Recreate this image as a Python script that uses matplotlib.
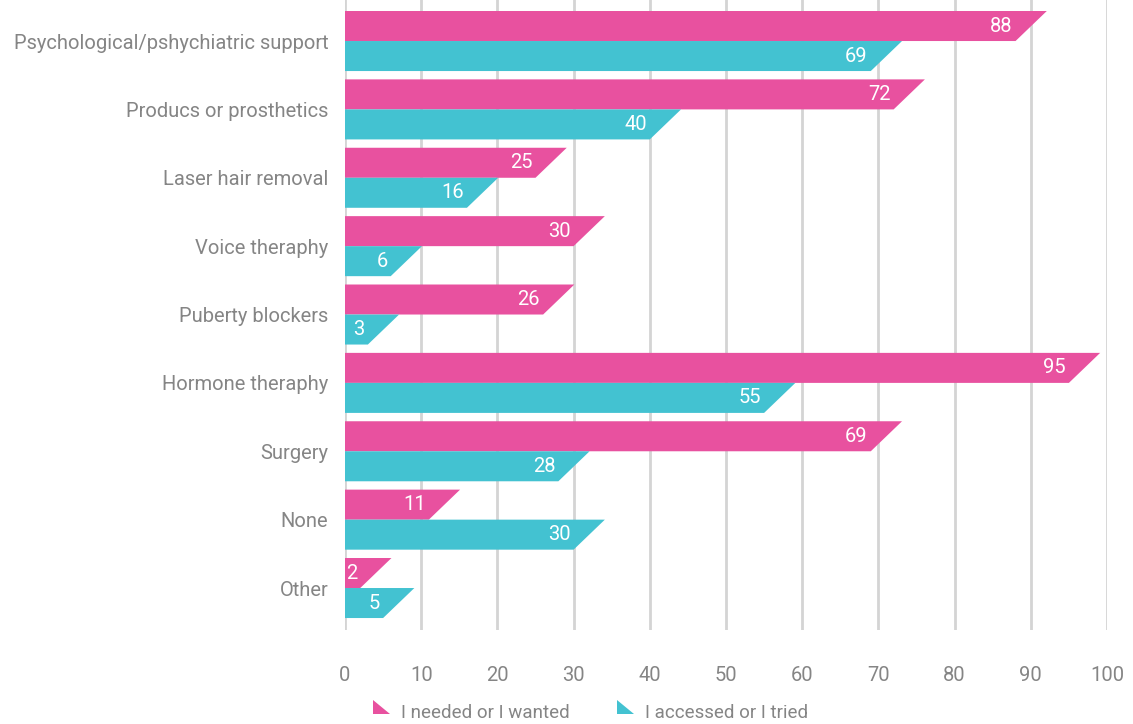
import matplotlib
matplotlib.use("Agg")
import matplotlib.pyplot as plt
from matplotlib.patches import Polygon

# ------------------------
# Data
# ------------------------
categories = ["Psychological/pshychiatric support", "Producs or prosthetics",
              "Laser hair removal", "Voice theraphy", "Puberty blockers",
              "Hormone theraphy", "Surgery", "None", "Other"]
needed = [88, 72, 25, 30, 26, 95, 69, 11, 2]
accessed = [69, 40, 16, 6, 3, 55, 28, 30, 5]
series_names = ["I needed or I wanted", "I accessed or I tried"]
xticks = list(range(0, 101, 10))

pink = "#E8519F"
teal = "#43C2D1"
grey_txt = "#858585"

plt.rcParams['font.family'] = ['Roboto', 'DejaVu Sans']

fig = plt.figure(figsize=(11.33, 7.24), dpi=100)
W, H = 1133, 724
# axes: x 0..100 -> px 345..1107, y px 0..630
ax = fig.add_axes([345 / W, (H - 630) / H, 762 / W, 630 / H])

bar_h = 0.439
slant = 4.1
fs = 14.5

for i, (a, b) in enumerate(zip(needed, accessed)):
    top = Polygon([(0, i - bar_h), (a + slant, i - bar_h), (a, i), (0, i)],
                  closed=True, facecolor=pink, edgecolor="none", zorder=3)
    bot = Polygon([(0, i), (b + slant, i), (b, i + bar_h), (0, i + bar_h)],
                  closed=True, facecolor=teal, edgecolor="none", zorder=3)
    ax.add_patch(top)
    ax.add_patch(bot)
    ax.text(a - 0.4, i - bar_h / 2, str(a), ha="right", va="center",
            color="white", fontsize=fs, zorder=4)
    ax.text(b - 0.4, i + bar_h / 2, str(b), ha="right", va="center",
            color="white", fontsize=fs, zorder=4)

ax.set_xlim(0, 100)
ax.set_ylim(8.614, -0.6)
ax.set_xticks(xticks)
ax.set_xticklabels([str(t) for t in xticks], color=grey_txt, fontsize=fs)
ax.set_yticks(range(len(categories)))
ax.set_yticklabels(categories, color=grey_txt, fontsize=fs)
ax.tick_params(axis="x", length=0, pad=26)
ax.tick_params(axis="y", length=0, pad=12)
ax.grid(axis="x", color="#d4d4d4", linewidth=2, zorder=0)
ax.set_axisbelow(True)
for s in ax.spines.values():
    s.set_visible(False)

# legend with triangle markers
def fx(px):
    return px / W

def fy(py):
    return (H - py) / H

for x0, col, name in [(373, pink, series_names[0]), (617, teal, series_names[1])]:
    tri = Polygon([(fx(x0), fy(700)), (fx(x0), fy(714)), (fx(x0 + 17), fy(714))],
                  closed=True, facecolor=col, edgecolor="none",
                  transform=fig.transFigure)
    fig.add_artist(tri)
    fig.text(fx(x0 + 28), fy(713), name, ha="left", va="center",
             color=grey_txt, fontsize=13.5)

fig.savefig("out.png", dpi=100)
